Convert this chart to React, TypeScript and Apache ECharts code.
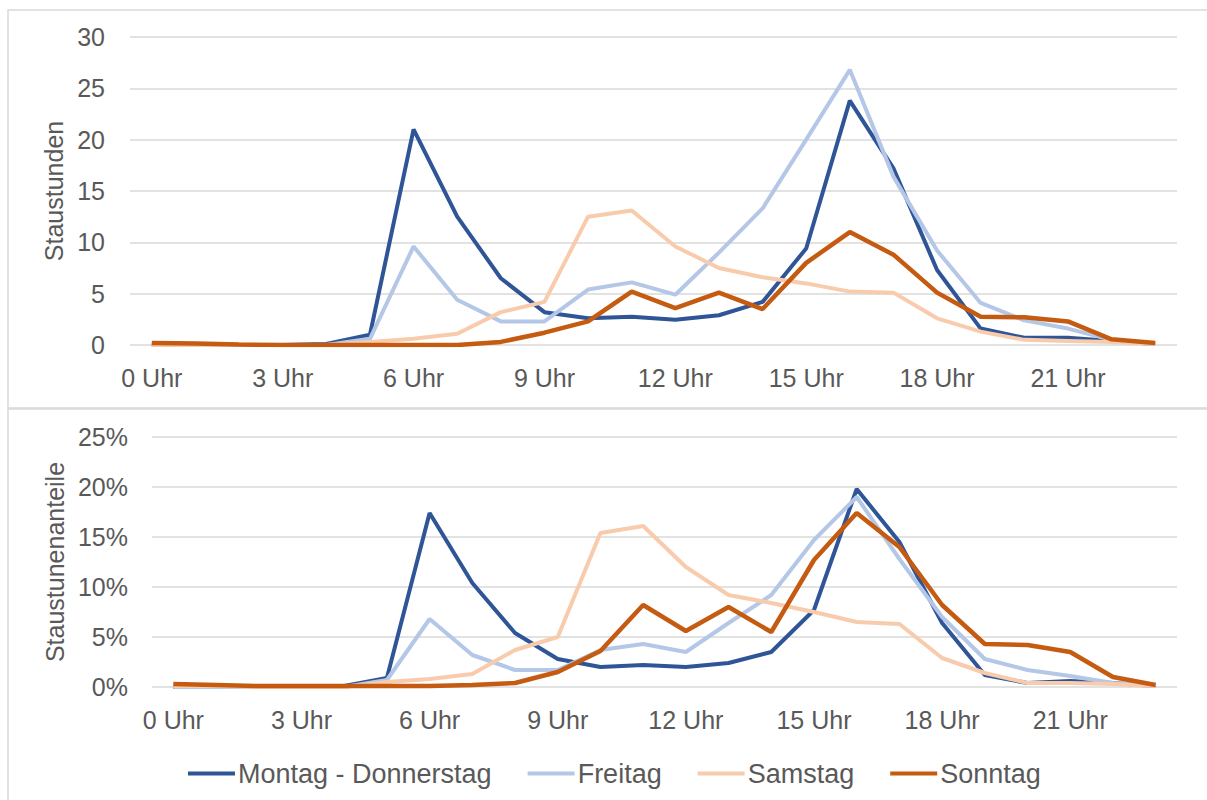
import React, { useEffect, useRef } from "react";
import * as echarts from "echarts";

const hours: string[] = Array.from({ length: 24 }, (_, i) => `${i} Uhr`);

const seriesNames = ["Montag - Donnerstag", "Freitag", "Samstag", "Sonntag"];
const seriesColors = ["#2F5597", "#B4C7E7", "#F8CBAD", "#C55A11"];

// Staustunden (absolute)
const montagAbs = [0, 0, 0, 0, 0.1, 1.0, 21.0, 12.5, 6.5, 3.2, 2.6, 2.75, 2.45, 2.9, 4.2, 9.4, 23.8, 17.2, 7.3, 1.6, 0.7, 0.7, 0.4, 0.1];
const freitagAbs = [0, 0, 0, 0, 0, 0.6, 9.6, 4.4, 2.3, 2.3, 5.4, 6.1, 4.9, 9.0, 13.3, 20.0, 26.8, 16.4, 9.2, 4.1, 2.4, 1.6, 0.5, 0.1];
const samstagAbs = [0, 0, 0, 0, 0, 0.3, 0.6, 1.1, 3.2, 4.2, 12.5, 13.1, 9.6, 7.5, 6.6, 6.0, 5.2, 5.1, 2.6, 1.3, 0.5, 0.4, 0.3, 0.1];
const sonntagAbs = [0.2, 0.15, 0.05, 0, 0, 0, 0, 0, 0.3, 1.2, 2.3, 5.2, 3.6, 5.1, 3.5, 8.0, 11.0, 8.8, 5.1, 2.75, 2.7, 2.3, 0.55, 0.2];

// Staustundenanteile (percent)
const montagPct = [0, 0, 0, 0, 0.1, 0.9, 17.4, 10.4, 5.4, 2.8, 2.0, 2.2, 2.0, 2.4, 3.5, 7.7, 19.8, 14.5, 6.4, 1.2, 0.4, 0.6, 0.4, 0.1];
const freitagPct = [0, 0, 0, 0, 0, 0.7, 6.8, 3.2, 1.7, 1.7, 3.7, 4.3, 3.5, 6.4, 9.2, 14.7, 19.0, 12.8, 7.0, 2.8, 1.7, 1.1, 0.4, 0.1];
const samstagPct = [0.1, 0.1, 0, 0, 0, 0.5, 0.8, 1.3, 3.7, 5.0, 15.4, 16.1, 12.0, 9.2, 8.4, 7.5, 6.5, 6.3, 2.9, 1.4, 0.4, 0.4, 0.3, 0.1];
const sonntagPct = [0.3, 0.2, 0.1, 0.1, 0.1, 0.1, 0.1, 0.2, 0.4, 1.5, 3.6, 8.2, 5.6, 8.0, 5.5, 12.7, 17.4, 14.0, 8.2, 4.3, 4.2, 3.5, 1.0, 0.2];

const absData = [montagAbs, freitagAbs, samstagAbs, sonntagAbs];
const pctData = [montagPct, freitagPct, samstagPct, sonntagPct];
const lineWidths = [4, 4, 4, 4.5];

const FONT = "'Liberation Sans', Arial, sans-serif";
const TXT = "#595959";

export default function App() {
  const ref = useRef<HTMLDivElement>(null);
  useEffect(() => {
    if (!ref.current) return;
    const chart = echarts.init(ref.current, undefined, { renderer: "svg" });
    const xAxisCommon = {
      type: "category" as const,
      data: hours,
      boundaryGap: true,
      axisLine: { show: false },
      axisTick: { show: false },
      axisLabel: { interval: 2, color: TXT, fontSize: 25, fontFamily: FONT, margin: 20 },
    };
    const yAxisCommon = {
      type: "value" as const,
      min: 0,
      interval: 5,
      axisLine: { show: false },
      axisTick: { show: false },
      splitLine: { lineStyle: { color: "#D9D9D9", width: 1.5 } },
      nameLocation: "middle" as const,
      nameRotate: 90,
      nameTextStyle: { color: TXT, fontSize: 25, fontFamily: FONT },
    };
    const series: any[] = [];
    seriesNames.forEach((name, i) => {
      series.push({
        name,
        type: "line",
        xAxisIndex: 0,
        yAxisIndex: 0,
        data: absData[i],
        symbol: "none",
        itemStyle: { color: seriesColors[i] },
        lineStyle: { color: seriesColors[i], width: lineWidths[i] },
      });
    });
    seriesNames.forEach((name, i) => {
      series.push({
        name,
        type: "line",
        xAxisIndex: 1,
        yAxisIndex: 1,
        data: pctData[i],
        symbol: "none",
        itemStyle: { color: seriesColors[i] },
        lineStyle: { color: seriesColors[i], width: lineWidths[i] },
      });
    });
    chart.setOption({
      animation: false,
      backgroundColor: "#FFFFFF",
      graphic: [
        { type: "rect", shape: { x: 8, y: 10, width: 1220, height: 398 }, style: { fill: "none", stroke: "#D9D9D9", lineWidth: 1.5 }, z: -1 },
        { type: "rect", shape: { x: 8, y: 409, width: 1220, height: 420 }, style: { fill: "none", stroke: "#D9D9D9", lineWidth: 1.5 }, z: -1 },
      ],
      grid: [
        { left: 130, right: 30, top: 37, height: 308 },
        { left: 152, right: 30, top: 437, height: 250 },
      ],
      xAxis: [
        { ...xAxisCommon, gridIndex: 0 },
        { ...xAxisCommon, gridIndex: 1 },
      ],
      yAxis: [
        {
          ...yAxisCommon,
          gridIndex: 0,
          max: 30,
          name: "Staustunden",
          nameGap: 62,
          axisLabel: { color: TXT, fontSize: 25, fontFamily: FONT, margin: 25 },
        },
        {
          ...yAxisCommon,
          gridIndex: 1,
          max: 25,
          name: "Staustunenanteile",
          nameGap: 84,
          axisLabel: { color: TXT, fontSize: 25, fontFamily: FONT, margin: 24, formatter: "{value}%" },
        },
      ],
      legend: {
        data: seriesNames,
        left: 188,
        top: 760,
        padding: 0,
        icon: "rect",
        itemWidth: 47,
        itemHeight: 4,
        itemGap: 36,
        textStyle: { color: TXT, fontSize: 27, fontFamily: FONT, padding: [0, 0, 0, -2] },
      },
      series,
    });
    return () => chart.dispose();
  }, []);
  return (
    <div
      ref={ref}
      style={{ position: "absolute", left: 0, top: 0, width: 1207, height: 800 }}
    />
  );
}
